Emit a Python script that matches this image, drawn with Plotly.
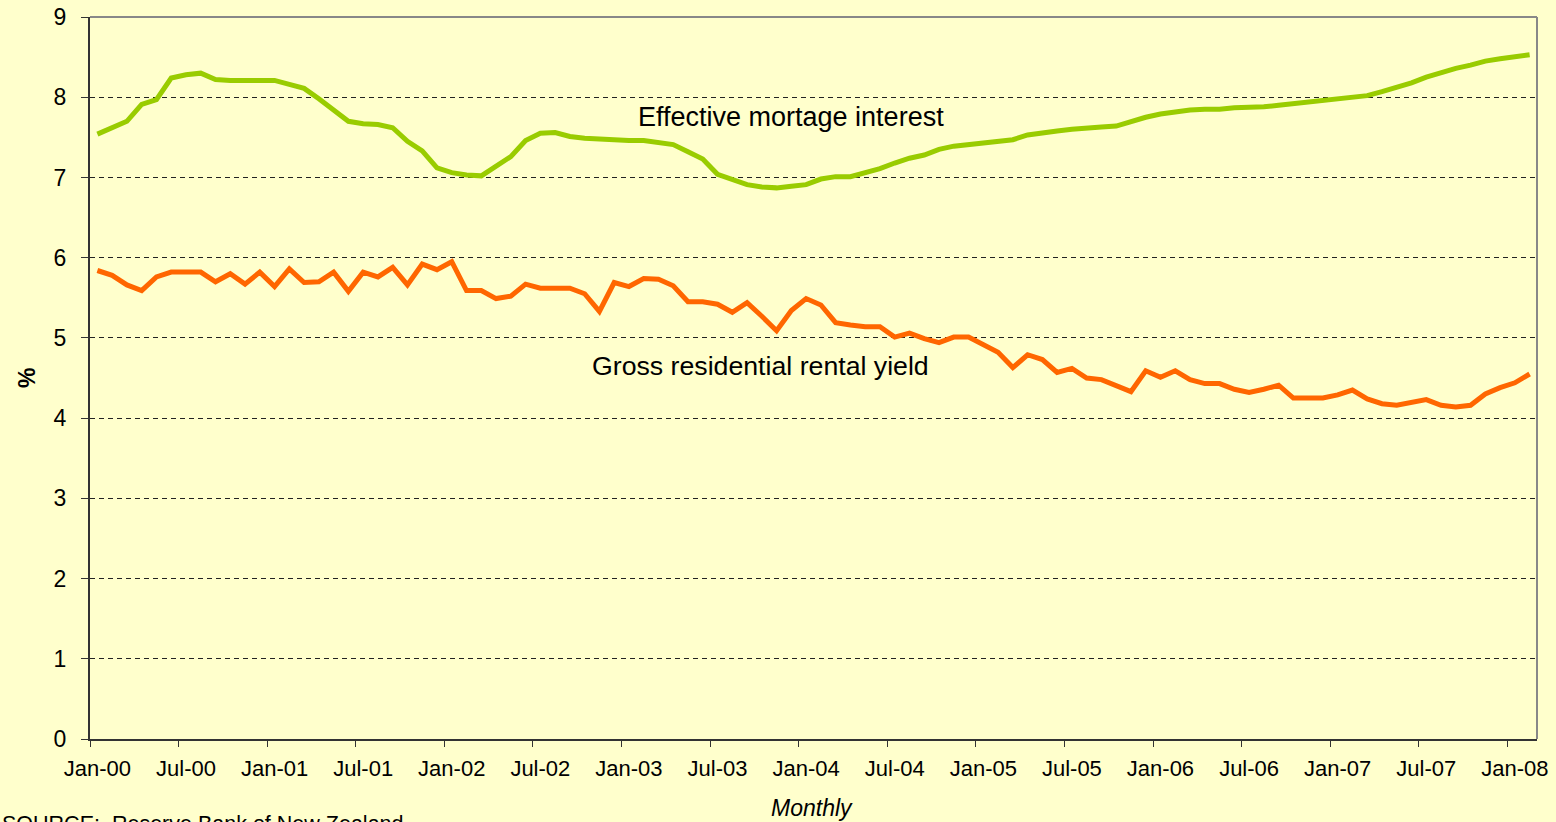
import plotly.graph_objects as go

# Monthly categories Jan-00 .. Feb-08
mon_names = ["Jan", "Feb", "Mar", "Apr", "May", "Jun", "Jul", "Aug", "Sep", "Oct", "Nov", "Dec"]
months = [f"{mon_names[m]}-{y:02d}" for y in range(0, 9) for m in range(12)][:98]

mortgage_rate = [
    7.54, 7.62, 7.70, 7.91, 7.97, 8.24, 8.28, 8.30, 8.22, 8.21,
    8.21, 8.22, 8.21, 8.16, 8.11, 7.98, 7.83, 7.70, 7.67, 7.66,
    7.62, 7.45, 7.33, 7.12, 7.06, 7.03, 7.02, 7.14, 7.26, 7.46,
    7.55, 7.56, 7.51, 7.49, 7.48, 7.46, 7.46, 7.46, 7.44, 7.41,
    7.32, 7.23, 7.04, 6.98, 6.91, 6.88, 6.87, 6.89, 6.91, 6.98,
    7.01, 7.01, 7.06, 7.11, 7.18, 7.24, 7.28, 7.35, 7.39, 7.41,
    7.42, 7.44, 7.47, 7.53, 7.56, 7.58, 7.60, 7.62, 7.63, 7.64,
    7.70, 7.75, 7.79, 7.82, 7.84, 7.85, 7.85, 7.87, 7.87, 7.88,
    7.90, 7.92, 7.94, 7.96, 7.97, 7.99, 8.02, 8.07, 8.12, 8.18,
    8.25, 8.31, 8.36, 8.40, 8.45, 8.48, 8.51, 8.53,
]

rental_yield = [
    5.84, 5.78, 5.66, 5.59, 5.76, 5.82, 5.82, 5.82, 5.70, 5.80,
    5.67, 5.82, 5.64, 5.86, 5.69, 5.70, 5.82, 5.58, 5.82, 5.76,
    5.88, 5.66, 5.92, 5.85, 5.95, 5.59, 5.59, 5.49, 5.52, 5.67,
    5.62, 5.62, 5.62, 5.55, 5.33, 5.69, 5.64, 5.74, 5.73, 5.65,
    5.45, 5.45, 5.42, 5.32, 5.44, 5.27, 5.09, 5.34, 5.49, 5.41,
    5.19, 5.16, 5.14, 5.14, 5.01, 5.06, 4.99, 4.94, 5.01, 5.01,
    4.91, 4.82, 4.63, 4.79, 4.73, 4.57, 4.62, 4.50, 4.48, 4.40,
    4.33, 4.59, 4.51, 4.59, 4.48, 4.43, 4.43, 4.36, 4.32, 4.36,
    4.41, 4.25, 4.25, 4.25, 4.29, 4.35, 4.24, 4.18, 4.16, 4.19,
    4.23, 4.16, 4.14, 4.16, 4.30, 4.38, 4.44, 4.55,
]

y_ticks = [0, 1, 2, 3, 4, 5, 6, 7, 8, 9]

idx = list(range(len(months)))
label_idx = idx[::6]
label_text = [months[i] for i in label_idx]
boundary_vals = [i - 0.5 for i in label_idx]

BG = "#FFFFCC"
FONT = "Liberation Sans, Arial, sans-serif"

fig = go.Figure()
fig.add_trace(go.Scatter(x=idx, y=mortgage_rate, mode="lines", name="Effective mortage interest",
                         line=dict(color="#99CC00", width=5), hoverinfo="skip"))
fig.add_trace(go.Scatter(x=idx, y=rental_yield, mode="lines", name="Gross residential rental yield",
                         line=dict(color="#FF6600", width=5), hoverinfo="skip"))
# invisible trace to activate label axis
fig.add_trace(go.Scatter(x=[idx[0]], y=[None], xaxis="x2", showlegend=False, hoverinfo="skip"))

fig.update_layout(
    width=1556, height=822,
    paper_bgcolor=BG, plot_bgcolor=BG,
    margin=dict(l=90, r=19, t=17, b=83, pad=0),
    showlegend=False,
    font=dict(family=FONT, color="#000000"),
    xaxis=dict(
        range=[-0.5, len(months) - 0.5], automargin=False,
        tickmode="array", tickvals=boundary_vals, showticklabels=False,
        ticks="outside", ticklen=6, tickcolor="#333333", tickwidth=1,
        showgrid=False, zeroline=False,
        showline=True, linecolor="#333333", linewidth=2,
    ),
    xaxis2=dict(
        overlaying="x", matches="x", side="bottom", automargin=False,
        tickmode="array", tickvals=label_idx, ticktext=label_text,
        ticks="", showgrid=False, zeroline=False, showline=False,
        tickfont=dict(size=22, family=FONT, color="#000000"),
        ticklabelstandoff=14,
    ),
    yaxis=dict(
        range=[0, 9], tickmode="array", tickvals=y_ticks, automargin=False,
        ticks="outside", ticklen=7, tickcolor="#333333", tickwidth=1,
        tickfont=dict(size=23, family=FONT, color="#000000"),
        ticklabelstandoff=10,
        showgrid=True, gridcolor="#222222", gridwidth=1, griddash="5px,4px",
        zeroline=False, showline=True, linecolor="#333333", linewidth=2,
    ),
    shapes=[
        dict(type="line", xref="paper", yref="paper", x0=0, x1=1, y0=1, y1=1,
             line=dict(color="#888888", width=2)),
        dict(type="line", xref="paper", yref="paper", x0=1, x1=1, y0=0, y1=1,
             line=dict(color="#888888", width=2)),
    ],
    annotations=[
        dict(text="Effective mortage interest", x=47.0, y=7.75, xref="x", yref="y",
             showarrow=False, font=dict(size=27, family=FONT, color="#000000")),
        dict(text="Gross residential rental yield", x=44.9, y=4.65, xref="x", yref="y",
             showarrow=False, font=dict(size=26.7, family=FONT, color="#000000")),
        dict(text="<i>Monthly</i>", x=0.499, y=-0.0956, xref="paper", yref="paper",
             xanchor="center", yanchor="middle", showarrow=False,
             font=dict(size=23, family=FONT, color="#000000")),
        dict(text="<b>%</b>", x=-0.0435, y=0.5, xref="paper", yref="paper", textangle=-90,
             xanchor="center", yanchor="middle", showarrow=False,
             font=dict(size=23, family=FONT, color="#000000")),
        dict(text="SOURCE:  Reserve Bank of New Zealand", x=-0.0622, y=-0.099,
             xref="paper", yref="paper", xanchor="left", yanchor="top", showarrow=False,
             font=dict(size=21.5, family=FONT, color="#000000")),
    ],
)

fig.write_html("out.html", config={"displayModeBar": False},
               post_script="document.body.style.margin='0';document.body.style.overflow='hidden';")
